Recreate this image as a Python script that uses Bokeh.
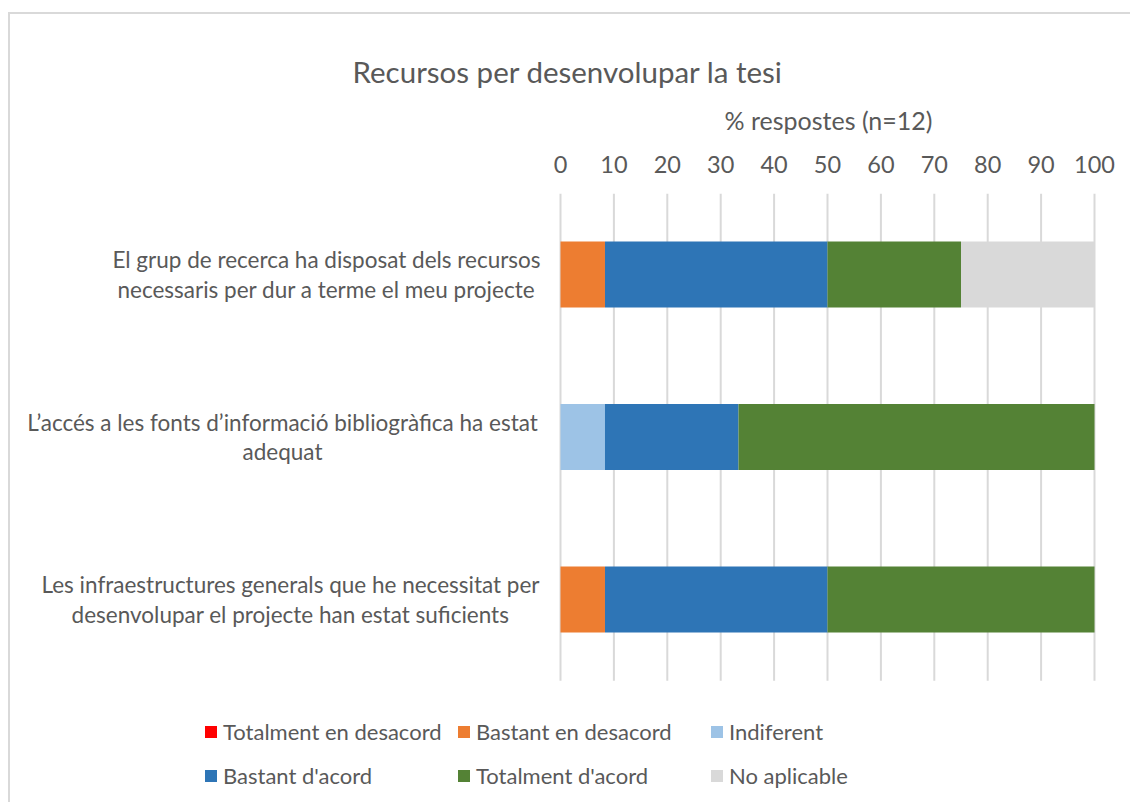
from bokeh.plotting import figure
from bokeh.models import (ColumnDataSource, Legend, LegendItem, Range1d, FixedTicker,
                          InlineStyleSheet, Title)
from bokeh.core.properties import value
from bokeh.embed import file_html
from bokeh.resources import INLINE

# ---------------- data ----------------
title_text = "Recursos per desenvolupar la tesi"
axis_title = "% respostes (n=12)"
categories = [
    "El grup de recerca ha disposat dels recursos\nnecessaris per dur a terme el meu projecte",
    "L\u2019acc\u00e9s a les fonts d\u2019informaci\u00f3 bibliogr\u00e0fica ha estat\nadequat",
    "Les infraestructures generals que he necessitat per\ndesenvolupar el projecte han estat suficients",
]
series = ["Totalment en desacord", "Bastant en desacord", "Indiferent",
          "Bastant d'acord", "Totalment d'acord", "No aplicable"]
totalment_desacord = [0.0, 0.0, 0.0]
bastant_desacord = [8.33, 0.0, 8.33]
indiferent = [0.0, 8.33, 0.0]
bastant_acord = [41.67, 25.0, 41.67]
totalment_acord = [25.0, 66.67, 50.0]
no_aplicable = [25.0, 0.0, 0.0]
x_ticks = [0, 10, 20, 30, 40, 50, 60, 70, 80, 90, 100]

# ---------------- style / layout ----------------
colors = ["#FF0000", "#ED7D31", "#9DC3E6", "#2E75B6", "#548235", "#D9D9D9"]
FONT = "Lato"
TXT = "#595959"
W, H = 1130, 802
FRAME_TOP = 193          # px from top where the plot area begins
X0_PX, X100_PX = 560, 1094
ROW0_PX, ROW_PITCH = 274, 162.5
label_centre_offsets = [-234, -278, -270]   # px from x=0 to centre of each category label

px_per_unit = (X100_PX - X0_PX) / 100.0
x_start = -X0_PX / px_per_unit
x_end = 100 + (W - X100_PX) / px_per_unit
y_top = -(ROW0_PX - FRAME_TOP) / ROW_PITCH
y_bottom = (H - ROW0_PX) / ROW_PITCH

rows = list(range(len(categories)))   # row index, 0 at top
keys = ["s0", "s1", "s2", "s3", "s4", "s5"]
source = ColumnDataSource(dict(
    row=rows,
    s0=totalment_desacord, s1=bastant_desacord, s2=indiferent,
    s3=bastant_acord, s4=totalment_acord, s5=no_aplicable,
))

p = figure(
    width=W, height=H,
    x_range=Range1d(x_start, x_end),
    y_range=Range1d(y_bottom, y_top),
    x_axis_location="above",
    output_backend="svg", toolbar_location=None,
    min_border_left=0, min_border_right=0, min_border_top=FRAME_TOP, min_border_bottom=0,
)
p.outline_line_color = None
p.background_fill_color = "white"
p.border_fill_color = "white"
p.yaxis.visible = False
p.xgrid.grid_line_color = None
p.ygrid.grid_line_color = None
p.title.visible = False

# chart-area border (light grey, left and top edges)
p.stylesheets = [InlineStyleSheet(css="""
:host { position: relative; }
:host::after {
  content: ""; position: absolute; left: 8px; top: 12px; right: 0; bottom: 0;
  border-left: 2px solid #D9D9D9; border-top: 2px solid #D9D9D9;
  pointer-events: none;
}
""")]

# vertical gridlines from top of plot area to below the last bar
grid_y0 = [y_top] * len(x_ticks)
grid_y1 = [rows[-1] + 0.5] * len(x_ticks)
p.segment(x0=x_ticks, y0=grid_y0, x1=x_ticks, y1=grid_y1,
          line_color="#D9D9D9", line_width=2)

renderers = p.hbar_stack(keys, y="row", height=0.406, color=colors, source=source,
                         line_color=None)

# category labels
lab_src = ColumnDataSource(dict(x=[0] * len(categories), y=rows, text=categories,
                                xo=label_centre_offsets))
p.text(x="x", y="y", text="text", x_offset="xo", source=lab_src,
       text_align="center", text_baseline="middle",
       text_font=value(FONT), text_font_size="22.5px", text_color=TXT,
       text_line_height=1.1)

# x axis (above)
xa = p.xaxis[0]
xa.ticker = FixedTicker(ticks=x_ticks)
xa.axis_line_color = None
xa.major_tick_line_color = None
xa.minor_tick_line_color = None
xa.major_tick_out = 0
xa.major_tick_in = 0
xa.major_label_standoff = 21
xa.major_label_text_font = FONT
xa.major_label_text_font_size = "23.5px"
xa.major_label_text_color = TXT
# tiny spacer so the axis title sits a little higher above the tick labels
xa.axis_label = " "
xa.axis_label_text_font_size = "1px"
xa.axis_label_standoff = 4

# axis title (centred over the 0-100 scale) and chart title, stacked above the axis
axis_t = Title(text=axis_title, align="left", offset=724, standoff=19,
               text_font=FONT, text_font_size="25px", text_font_style="normal",
               text_color=TXT)
main_t = Title(text=title_text, align="left", offset=352, standoff=10,
               text_font=FONT, text_font_size="29.5px", text_font_style="normal",
               text_color=TXT)
p.add_layout(axis_t, "above")
p.add_layout(main_t, "above")

# legend: two rows of three items
items = [LegendItem(label=s, renderers=[r]) for s, r in zip(series, renderers)]
leg_rows = [(items[:3], (203, 57)), (items[3:], (203, 13))]
for its, loc in leg_rows:
    lg = Legend(items=its, orientation="horizontal", location=loc,
                glyph_width=15, glyph_height=15, label_standoff=5, spacing=5,
                label_width=228, padding=0, margin=0,
                border_line_color=None, background_fill_alpha=0,
                label_text_font=FONT, label_text_font_size="22px", label_text_color=TXT)
    p.add_layout(lg, "center")

open("out.html", "w").write(file_html(p, INLINE))
